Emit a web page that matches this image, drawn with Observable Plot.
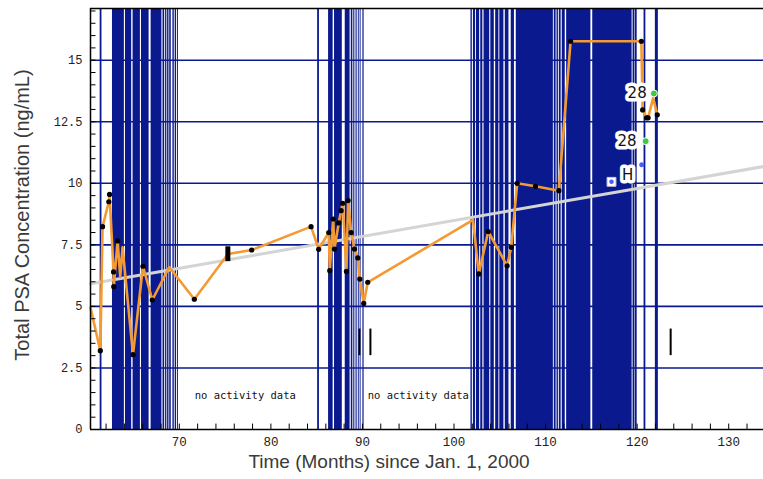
<!DOCTYPE html>
<html>
<head>
<meta charset="utf-8">
<script src="https://cdn.jsdelivr.net/npm/d3@7"></script>
<script src="https://cdn.jsdelivr.net/npm/@observablehq/plot@0.6"></script>
<style>
  html, body { margin: 0; padding: 0; background: #fff; }
  #chart svg { display: block; }
</style>
</head>
<body>
<div id="chart"></div>
<script>
// ---- Data ----
const psaMonths = [60.3, 61.37, 61.62, 62.30, 62.38, 62.82, 62.84, 63.26, 63.55, 63.8, 64.94, 66.03, 67.05, 68.9, 71.64, 75.32, 77.9, 84.39, 85.22, 86.32, 86.43, 86.8, 86.94, 87.41, 87.67, 87.85, 88.25, 88.43, 88.77, 89.13, 89.49, 89.71, 90.14, 90.58, 102.08, 102.7, 103.74, 105.8, 106.25, 106.9, 108.9, 111.45, 112.73, 120.46, 120.6, 121.05, 121.2, 121.75, 122.2];
const psaValues = [4.95, 3.2, 8.24, 9.25, 9.55, 6.4, 5.8, 7.66, 6.2, 7.4, 3.04, 6.63, 5.26, 6.6, 5.29, 7.13, 7.29, 8.24, 7.32, 8.0, 6.45, 8.55, 7.33, 8.39, 8.89, 9.19, 6.42, 9.3, 8.0, 7.33, 6.97, 6.11, 5.12, 5.98, 8.51, 6.32, 8.04, 6.65, 7.4, 10.0, 9.88, 9.7, 15.77, 15.77, 12.98, 12.66, 12.66, 13.47, 12.78];
const psaMeasured = [0, 1, 1, 1, 1, 1, 1, 1, 0, 0, 1, 1, 1, 0, 1, 0, 1, 1, 1, 1, 1, 1, 1, 1, 1, 1, 1, 1, 1, 1, 1, 1, 1, 1, 0, 1, 1, 1, 1, 1, 1, 1, 1, 1, 1, 1, 1, 0, 1];

const trendMonths = [60.3, 133.8];
const trendValues = [5.92, 10.68];

// activity recordings: dense blocks [start, end] and single events (months)
const activityBlocks = [
  [62.7, 64.0], [64.12, 64.8], [64.95, 65.75], [65.87, 66.7], [66.92, 68.1], [68.22, 68.4], [68.5, 68.64], [68.72, 68.87], [68.95, 69.12], [69.3, 69.45], [69.55, 69.7], [69.8, 69.9],
  [86.3, 86.8], [86.95, 87.8], [88.12, 88.65], [88.78, 88.95], [89.05, 89.17], [89.3, 89.42], [89.55, 89.65], [89.75, 89.85], [90.05, 90.18],
  [101.85, 102.0], [102.12, 102.35], [102.45, 102.8], [102.92, 103.15], [103.28, 103.9], [104.02, 104.4], [104.55, 104.9], [105.0, 105.45], [105.6, 106.0], [106.25, 106.6], [106.8, 110.85], [110.95, 111.15], [111.25, 111.4], [111.5, 111.7], [111.82, 112.15], [112.3, 114.95], [115.15, 119.45]
];
const activityLines = [61.4, 85.15, 119.6, 119.85, 120.8];
const activityHeavyLines = [122.1];

// event markers
const markerMonths = [89.67, 90.87, 123.66];
const markerLow = [3.0, 3.0, 3.0];
const markerHigh = [4.08, 4.08, 4.08];
const heavyMarkerMonths = [75.3];
const heavyMarkerLow = [6.82];
const heavyMarkerHigh = [7.42];

const greenMonths = [121.83, 120.93];
const greenValues = [13.65, 11.71];
const greenLabels = ["28", "28"];
const greenLabelMonths = [120.0, 118.9];

const blueDotMonths = [120.5];
const blueDotValues = [10.75];
const hMonths = [117.2];
const hValues = [10.06];
const hLabelMonths = [118.96];
const hLabelValues = [10.33];
const hLabels = ["H"];

const noteMonths = [77.2, 96.1];
const noteValues = [1.37, 1.37];
const noteTexts = ["no activity data", "no activity data"];

const yTicks = [0, 2.5, 5, 7.5, 10, 12.5, 15];
const xTicks = [70, 80, 90, 100, 110, 120, 130];

// ---- Build ----
const X0 = 60.3, X1 = 133.8, Y0 = 0, Y1 = 17.1;
const navy = "#0a1a8e";
const orange = "#f39a32";
const psa = psaMonths.map((m, i) => ({m, v: psaValues[i], dot: psaMeasured[i]}));
const trend = trendMonths.map((m, i) => ({m, v: trendValues[i]}));
const blocks = activityBlocks.map(([a, b]) => ({a, b}));
const markers = markerMonths.map((m, i) => ({m, lo: markerLow[i], hi: markerHigh[i]}));
const heavy = heavyMarkerMonths.map((m, i) => ({m, lo: heavyMarkerLow[i], hi: heavyMarkerHigh[i]}));
const greens = greenMonths.map((m, i) => ({m, v: greenValues[i], lm: greenLabelMonths[i], t: greenLabels[i]}));
const blues = blueDotMonths.map((m, i) => ({m, v: blueDotValues[i]}));
const hs = hMonths.map((m, i) => ({m, v: hValues[i], lm: hLabelMonths[i], lv: hLabelValues[i], t: hLabels[i]}));
const notes = noteMonths.map((m, i) => ({m, v: noteValues[i], t: noteTexts[i]}));
const yMinor = d3.range(0, 17.01, 0.5);
const xMinor = d3.range(62, 134, 2);
const fmtY = d => String(d);

const chart = Plot.plot({
  width: 763,
  height: 479,
  marginLeft: 90,
  marginRight: 0,
  marginTop: 8,
  marginBottom: 50,
  x: {domain: [X0, X1]},
  y: {domain: [Y0, Y1]},
  marks: [
    // horizontal grid
    Plot.ruleY(yTicks.filter(d => d > 0), {x1: X0, x2: X1, stroke: navy, strokeWidth: 1.6}),
    // activity
    Plot.rect(blocks, {x1: "a", x2: "b", y1: () => Y0, y2: () => Y1, fill: navy, inset: 0}),
    Plot.ruleX(activityLines, {y1: Y0, y2: Y1, stroke: navy, strokeWidth: 1.8}),
    Plot.ruleX(activityHeavyLines, {y1: Y0, y2: Y1, stroke: navy, strokeWidth: 3}),
    // trend
    Plot.line(trend, {x: "m", y: "v", stroke: "#d4d4d4", strokeWidth: 3}),
    // PSA
    Plot.line(psa, {x: "m", y: "v", stroke: orange, strokeWidth: 2.6, strokeLinejoin: "round"}),
    Plot.dot(psa.filter(d => d.dot), {x: "m", y: "v", r: 2.6, fill: "#000", stroke: "none"}),
    // markers
    Plot.ruleX(markers, {x: "m", y1: "lo", y2: "hi", stroke: "#000", strokeWidth: 2}),
    Plot.ruleX(heavy, {x: "m", y1: "lo", y2: "hi", stroke: "#000", strokeWidth: 5}),
    // annotations
    Plot.text(greens, {x: "lm", y: "v", text: "t", fontFamily: "DejaVu Sans", fontSize: 15, fill: "#111", stroke: "#fff", strokeWidth: 7, textAnchor: "middle"}),
    Plot.dot(greens, {x: "m", y: "v", r: 3.5, fill: "#3ccb3c", stroke: "#fff", strokeWidth: 1}),
    Plot.dot(blues, {x: "m", y: "v", r: 2.5, fill: "#4d5cff", stroke: "none"}),
    Plot.dot(hs, {x: "m", y: "v", r: 5, symbol: "square", fill: "#fff", stroke: "#ccc", strokeWidth: 1}),
    Plot.dot(hs, {x: "m", y: "v", r: 2.3, fill: "#4d5cff", stroke: "none"}),
    Plot.text(hs, {x: "lm", y: "lv", text: "t", fontFamily: "DejaVu Sans", fontSize: 15, fill: "#111", stroke: "#fff", strokeWidth: 7}),
    Plot.text(notes, {x: "m", y: "v", text: "t", fontFamily: "DejaVu Sans Mono", fontSize: 10.5, fill: "#111"}),
    // frame
    Plot.ruleX([X0], {y1: Y0, y2: Y1, stroke: "#000", strokeWidth: 1.5}),
    Plot.ruleY([Y0], {x1: X0, x2: X1, stroke: "#000", strokeWidth: 1.5}),
    Plot.ruleY([Y1], {x1: X0, x2: X1, stroke: "#000", strokeWidth: 1.5}),
    // minor ticks (inward)
    Plot.ruleY(yMinor, {x1: X0, x2: X0 + 0.6, stroke: "#000", strokeWidth: 1}),
    Plot.ruleX(xMinor, {y1: Y0, y2: 0.22, stroke: "#000", strokeWidth: 1}),
    // axes
    Plot.axisY({ticks: yTicks, tickSize: 0, tickPadding: 8, tickFormat: fmtY, fontFamily: "Liberation Mono", fontSize: 12, fill: "#222", label: null}),
    Plot.axisX({ticks: xTicks, tickSize: 0, tickPadding: 8, fontFamily: "Liberation Mono", fontSize: 12.5, fill: "#222", label: null}),
    Plot.text(["Time (Months) since Jan. 1, 2000"], {frameAnchor: "bottom", textAnchor: "middle", dx: -38, dy: 38, fontFamily: "Liberation Sans", fontSize: 19, fill: "#3a3a3a"}),
    Plot.text(["Total PSA Concentration (ng/mL)"], {frameAnchor: "left", textAnchor: "middle", rotate: -90, dx: -68, dy: -4, fontFamily: "Liberation Sans", fontSize: 20, fill: "#3a3a3a"})
  ]
});
document.getElementById("chart").appendChild(chart);
</script>
</body>
</html>
